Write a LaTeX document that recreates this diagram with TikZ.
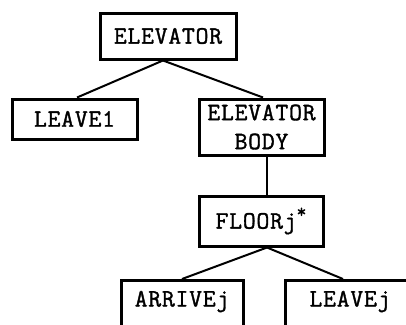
\documentclass[tikz,border=0pt]{standalone}
\usepackage{fontspec}
\newfontfamily\typewriter{Latin Modern Mono}[LetterSpace=3,FakeBold=1.4]
\begin{document}
\begin{tikzpicture}[x=1pt,y=-1pt,
  box/.style={draw,line width=3pt,inner sep=0pt,align=center,
    font=\typewriter\fontsize{25}{29}\selectfont},
  openbox/.style={box,anchor=north,text height=26pt,text depth=26pt},
  link/.style={line width=2pt}]
\useasboundingbox (0,0) rectangle (406,324);
\clip (0,0) rectangle (406,324);
\node[box,minimum width=136pt,minimum height=46pt] (elev) at (168,36) {ELEVATOR};
\node[box,minimum width=125pt,minimum height=40pt] (leave1) at (74.5,119) {LEAVE1};
\node[box,minimum width=125pt,minimum height=56pt] (body) at (261.5,127) {ELEVATOR\\BODY};
\node[box,minimum width=124pt,minimum height=50pt] (floor) at (261,221) {FLOORj\raisebox{11pt}{\fontsize{19}{19}\selectfont*}};
\node[openbox,minimum width=122pt] (arrive) at (182,279) {ARRIVEj};
\node[openbox,minimum width=130pt] (leavej) at (350,279) {LEAVEj};
\draw[link] ([xshift=-5pt]elev.south) -- ([xshift=2.5pt]leave1.north);
\draw[link] ([xshift=-5pt]elev.south) -- ([xshift=1.5pt]body.north);
\draw[link] ([xshift=5.5pt]body.south) -- ([xshift=6pt]floor.north);
\draw[link] ([xshift=6pt]floor.south) -- (arrive.north);
\draw[link] ([xshift=6pt]floor.south) -- ([xshift=-7pt]leavej.north);
\end{tikzpicture}
\end{document}
